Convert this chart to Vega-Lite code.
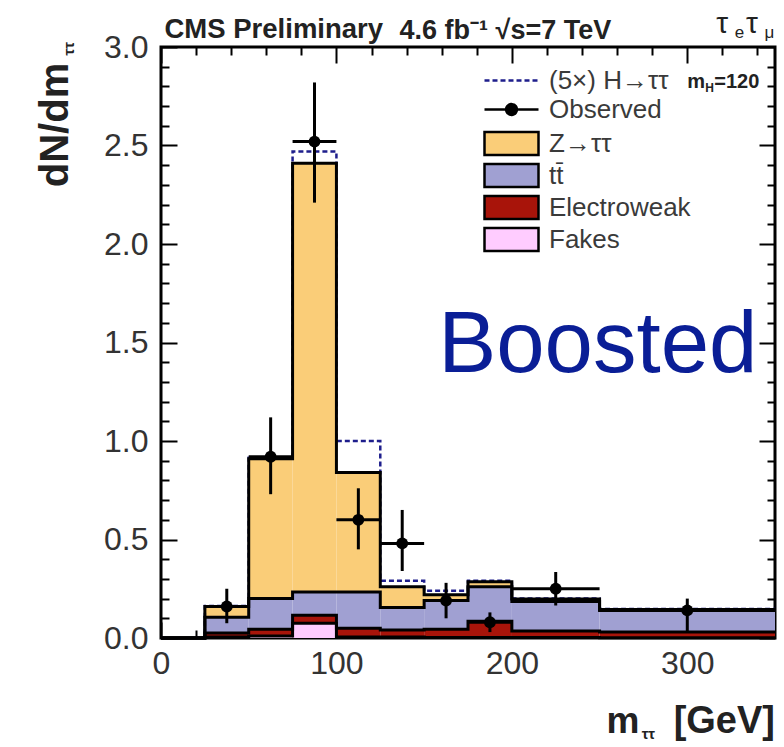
{
  "$schema": "https://vega.github.io/schema/vega-lite/v6.json",
  "width": 614,
  "height": 591,
  "autosize": {"type": "none"},
  "padding": {"left": 161, "top": 47, "right": 9, "bottom": 109},
  "background": "white",
  "config": {"view": {"stroke": "black", "strokeWidth": 3}, "font": "Liberation Sans"},
  "datasets": {
    "stack": [
      {"lo": 0, "hi": 25, "proc": "Fakes", "ord": 1, "val": 0},
      {"lo": 0, "hi": 25, "proc": "Electroweak", "ord": 2, "val": 0},
      {"lo": 0, "hi": 25, "proc": "tt\u0304", "ord": 3, "val": 0},
      {"lo": 0, "hi": 25, "proc": "Z→ττ", "ord": 4, "val": 0},
      {"lo": 25, "hi": 50, "proc": "Fakes", "ord": 1, "val": 0.005},
      {"lo": 25, "hi": 50, "proc": "Electroweak", "ord": 2, "val": 0.02},
      {"lo": 25, "hi": 50, "proc": "tt\u0304", "ord": 3, "val": 0.08},
      {"lo": 25, "hi": 50, "proc": "Z→ττ", "ord": 4, "val": 0.055},
      {"lo": 50, "hi": 75, "proc": "Fakes", "ord": 1, "val": 0.01},
      {"lo": 50, "hi": 75, "proc": "Electroweak", "ord": 2, "val": 0.035},
      {"lo": 50, "hi": 75, "proc": "tt\u0304", "ord": 3, "val": 0.155},
      {"lo": 50, "hi": 75, "proc": "Z→ττ", "ord": 4, "val": 0.71},
      {"lo": 75, "hi": 100, "proc": "Fakes", "ord": 1, "val": 0.075},
      {"lo": 75, "hi": 100, "proc": "Electroweak", "ord": 2, "val": 0.04},
      {"lo": 75, "hi": 100, "proc": "tt\u0304", "ord": 3, "val": 0.119},
      {"lo": 75, "hi": 100, "proc": "Z→ττ", "ord": 4, "val": 2.176},
      {"lo": 100, "hi": 125, "proc": "Fakes", "ord": 1, "val": 0.005},
      {"lo": 100, "hi": 125, "proc": "Electroweak", "ord": 2, "val": 0.045},
      {"lo": 100, "hi": 125, "proc": "tt\u0304", "ord": 3, "val": 0.184},
      {"lo": 100, "hi": 125, "proc": "Z→ττ", "ord": 4, "val": 0.606},
      {"lo": 125, "hi": 150, "proc": "Fakes", "ord": 1, "val": 0.005},
      {"lo": 125, "hi": 150, "proc": "Electroweak", "ord": 2, "val": 0.035},
      {"lo": 125, "hi": 150, "proc": "tt\u0304", "ord": 3, "val": 0.115},
      {"lo": 125, "hi": 150, "proc": "Z→ττ", "ord": 4, "val": 0.105},
      {"lo": 150, "hi": 175, "proc": "Fakes", "ord": 1, "val": 0.003},
      {"lo": 150, "hi": 175, "proc": "Electroweak", "ord": 2, "val": 0.042},
      {"lo": 150, "hi": 175, "proc": "tt\u0304", "ord": 3, "val": 0.145},
      {"lo": 150, "hi": 175, "proc": "Z→ττ", "ord": 4, "val": 0.03},
      {"lo": 175, "hi": 200, "proc": "Fakes", "ord": 1, "val": 0.002},
      {"lo": 175, "hi": 200, "proc": "Electroweak", "ord": 2, "val": 0.083},
      {"lo": 175, "hi": 200, "proc": "tt\u0304", "ord": 3, "val": 0.175},
      {"lo": 175, "hi": 200, "proc": "Z→ττ", "ord": 4, "val": 0.025},
      {"lo": 200, "hi": 250, "proc": "Fakes", "ord": 1, "val": 0.002},
      {"lo": 200, "hi": 250, "proc": "Electroweak", "ord": 2, "val": 0.033},
      {"lo": 200, "hi": 250, "proc": "tt\u0304", "ord": 3, "val": 0.15},
      {"lo": 200, "hi": 250, "proc": "Z→ττ", "ord": 4, "val": 0.013},
      {"lo": 250, "hi": 350, "proc": "Fakes", "ord": 1, "val": 0.001},
      {"lo": 250, "hi": 350, "proc": "Electroweak", "ord": 2, "val": 0.029},
      {"lo": 250, "hi": 350, "proc": "tt\u0304", "ord": 3, "val": 0.11},
      {"lo": 250, "hi": 350, "proc": "Z→ττ", "ord": 4, "val": 0.005}
    ],
    "higgs": [
      {"lo": 0, "hi": 25, "h": 0},
      {"lo": 25, "hi": 50, "h": 0.162},
      {"lo": 50, "hi": 75, "h": 0.915},
      {"lo": 75, "hi": 100, "h": 2.47},
      {"lo": 100, "hi": 125, "h": 1.0},
      {"lo": 125, "hi": 150, "h": 0.29},
      {"lo": 150, "hi": 175, "h": 0.24},
      {"lo": 175, "hi": 200, "h": 0.29},
      {"lo": 200, "hi": 250, "h": 0.2},
      {"lo": 250, "hi": 350, "h": 0.147}
    ],
    "obs": [
      {"xc": 37.5, "xlo": 25, "xhi": 50, "n": 0.16, "lo": 0.075, "hi": 0.25},
      {"xc": 62.5, "xlo": 50, "xhi": 75, "n": 0.92, "lo": 0.73, "hi": 1.12},
      {"xc": 87.5, "xlo": 75, "xhi": 100, "n": 2.52, "lo": 2.21, "hi": 2.82},
      {"xc": 112.5, "xlo": 100, "xhi": 125, "n": 0.6, "lo": 0.45, "hi": 0.76},
      {"xc": 137.5, "xlo": 125, "xhi": 150, "n": 0.48, "lo": 0.34, "hi": 0.65},
      {"xc": 162.5, "xlo": 150, "xhi": 175, "n": 0.19, "lo": 0.1, "hi": 0.28},
      {"xc": 187.5, "xlo": 175, "xhi": 200, "n": 0.08, "lo": 0.03, "hi": 0.13},
      {"xc": 225, "xlo": 200, "xhi": 250, "n": 0.25, "lo": 0.165, "hi": 0.335},
      {"xc": 300, "xlo": 250, "xhi": 350, "n": 0.14, "lo": 0.03, "hi": 0.2}
    ]
  },
  "resolve": {"axis": {"x": "independent", "y": "independent"}},
  "layer": [
    {
      "data": {"name": "stack"},
      "transform": [{"stack": "val", "groupby": ["lo"], "sort": [{"field": "ord", "order": "ascending"}], "as": ["y0", "y1"]}],
      "mark": {"type": "rect", "strokeWidth": 0},
      "encoding": {
        "x": {"field": "lo", "type": "quantitative", "scale": {"domain": [0, 350], "nice": false},
          "axis": {"orient": "bottom", "values": [0,20,40,60,80,100,120,140,160,180,200,220,240,260,280,300,320,340],
            "tickSize": {"condition": {"test": "datum.value % 100 === 0", "value": -16}, "value": -8},
            "labelExpr": "datum.value % 100 === 0 ? datum.label : ''",
            "tickColor": "black", "tickWidth": 2, "domain": false, "grid": false, "title": null,
            "labelFontSize": 32, "labelColor": "#333", "labelPadding": 26, "labelFlush": false, "labelOverlap": false, "labelBound": false}},
        "x2": {"field": "hi"},
        "y": {"field": "y0", "type": "quantitative", "scale": {"domain": [0, 3], "nice": false},
          "axis": {"orient": "left", "values": [0,0.1,0.2,0.3,0.4,0.5,0.6,0.7,0.8,0.9,1,1.1,1.2,1.3,1.4,1.5,1.6,1.7,1.8,1.9,2,2.1,2.2,2.3,2.4,2.5,2.6,2.7,2.8,2.9,3],
            "tickSize": {"condition": {"test": "abs(datum.value*2-round(datum.value*2))<0.001", "value": -16}, "value": -8},
            "labelExpr": "abs(datum.value*2-round(datum.value*2))<0.001 ? format(datum.value,'.1f') : ''",
            "tickColor": "black", "tickWidth": 2, "domain": false, "grid": false, "title": null,
            "labelFontSize": 32, "labelColor": "#333", "labelPadding": 29, "labelFlush": false, "labelOverlap": false, "labelBound": false}},
        "y2": {"field": "y1"},
        "color": {"field": "proc", "type": "nominal",
          "scale": {"domain": ["Z→ττ", "tt\u0304", "Electroweak", "Fakes"], "range": ["#FACD78", "#A0A0D2", "#A8140A", "#FFCCFF"]},
          "legend": {"orient": "none", "legendX": 337, "legendY": 83, "title": null, "padding": 0,
            "symbolType": "M-2.25,-0.96L2.25,-0.96L2.25,0.96L-2.25,0.96Z", "symbolSize": 576,
            "symbolStrokeColor": "black", "symbolStrokeWidth": 2.5, "symbolOpacity": 1,
            "labelFontSize": 26, "labelColor": "#3a3a3a", "labelOffset": 24, "rowPadding": -3,
            "encode": {"symbols": {"update": {"stroke": {"value": "black"}, "strokeWidth": {"value": 2.5}}}}}}
      }
    },
    {
      "data": {"name": "higgs"},
      "transform": [{"fold": ["lo", "hi"], "as": ["edge", "ex"]}],
      "mark": {"type": "line", "color": "#1E1E8C", "strokeWidth": 2.5},
      "encoding": {
        "x": {"field": "ex", "type": "quantitative", "axis": null},
        "y": {"field": "h", "type": "quantitative", "axis": null},
        "order": [{"field": "ex", "type": "quantitative"}, {"field": "edge", "type": "nominal"}],
        "strokeDash": {"datum": "(5×) H→ττ", "type": "nominal",
          "scale": {"domain": ["(5×) H→ττ", "Observed"], "range": [[5, 3], [1, 0]]},
          "legend": {"orient": "none", "legendX": 337, "legendY": 20, "title": null, "padding": 0,
            "symbolType": "M-2.25,0L2.25,0", "symbolSize": 576, "symbolStrokeColor": "#1E1E8C", "symbolStrokeWidth": 2.5,
            "labelFontSize": 26, "labelColor": "#3a3a3a", "labelOffset": 24, "rowPadding": 2,
            "encode": {"symbols": {"update": {
              "shape": {"signal": "datum.value === 'Observed' ? 'M-2.25,0L2.25,0M-0.45,0A0.45,0.45 0 1,1 0.45,0A0.45,0.45 0 1,1 -0.45,0Z' : 'M-2.25,0L2.25,0'"},
              "stroke": {"signal": "datum.value === 'Observed' ? 'black' : '#1E1E8C'"},
              "fill": {"signal": "datum.value === 'Observed' ? 'black' : 'transparent'"},
              "strokeWidth": {"value": 2.5},
              "opacity": {"value": 1}}}}}}
      }
    },
    {
      "data": {"name": "stack"},
      "transform": [
        {"stack": "val", "groupby": ["lo"], "sort": [{"field": "ord", "order": "ascending"}], "as": ["y0", "y1"]},
        {"fold": ["lo", "hi"], "as": ["edge", "ex"]}
      ],
      "mark": {"type": "line", "color": "black", "strokeWidth": 3},
      "encoding": {
        "x": {"field": "ex", "type": "quantitative",
          "axis": {"orient": "top", "values": [0,20,40,60,80,100,120,140,160,180,200,220,240,260,280,300,320,340],
            "tickSize": {"condition": {"test": "datum.value % 100 === 0", "value": -16}, "value": -8},
            "labels": false, "tickColor": "black", "tickWidth": 2, "domain": false, "grid": false, "title": null}},
        "y": {"field": "y1", "type": "quantitative",
          "axis": {"orient": "right", "values": [0,0.1,0.2,0.3,0.4,0.5,0.6,0.7,0.8,0.9,1,1.1,1.2,1.3,1.4,1.5,1.6,1.7,1.8,1.9,2,2.1,2.2,2.3,2.4,2.5,2.6,2.7,2.8,2.9,3],
            "tickSize": {"condition": {"test": "abs(datum.value*2-round(datum.value*2))<0.001", "value": -16}, "value": -8},
            "labels": false, "tickColor": "black", "tickWidth": 2, "domain": false, "grid": false, "title": null}},
        "detail": {"field": "proc"},
        "order": [{"field": "ex", "type": "quantitative"}, {"field": "edge", "type": "nominal"}]
      }
    },
    {
      "data": {"name": "obs"},
      "mark": {"type": "rule", "color": "black", "strokeWidth": 3},
      "encoding": {
        "x": {"field": "xc", "type": "quantitative", "axis": null},
        "y": {"field": "lo", "type": "quantitative", "axis": null},
        "y2": {"field": "hi"}
      }
    },
    {
      "data": {"name": "obs"},
      "mark": {"type": "rule", "color": "black", "strokeWidth": 3},
      "encoding": {
        "x": {"field": "xlo", "type": "quantitative", "axis": null},
        "x2": {"field": "xhi"},
        "y": {"field": "n", "type": "quantitative", "axis": null},
        "strokeDash": {"datum": "Observed", "type": "nominal"}
      }
    },
    {
      "data": {"name": "obs"},
      "mark": {"type": "point", "filled": true, "color": "black", "size": 140, "opacity": 1},
      "encoding": {
        "x": {"field": "xc", "type": "quantitative", "axis": null},
        "y": {"field": "n", "type": "quantitative", "axis": null}
      }
    },
    {
      "data": {"values": [{}]},
      "mark": {"type": "text", "text": "Boosted", "fontSize": 87, "color": "#0A1E96", "align": "left", "baseline": "alphabetic"},
      "encoding": {"x": {"datum": 158, "type": "quantitative", "axis": null}, "y": {"datum": 1.35, "type": "quantitative", "axis": null}}
    },
    {
      "data": {"values": [{}]},
      "mark": {"type": "text", "text": "m", "fontSize": 20, "fontWeight": "bold", "color": "#222", "align": "left", "baseline": "alphabetic"},
      "encoding": {"x": {"datum": 300, "type": "quantitative", "axis": null}, "y": {"datum": 2.79, "type": "quantitative", "axis": null}}
    },
    {
      "data": {"values": [{}]},
      "mark": {"type": "text", "text": "H", "fontSize": 12, "fontWeight": "bold", "color": "#222", "align": "left", "baseline": "alphabetic", "dx": 18, "dy": 4},
      "encoding": {"x": {"datum": 300, "type": "quantitative", "axis": null}, "y": {"datum": 2.79, "type": "quantitative", "axis": null}}
    },
    {
      "data": {"values": [{}]},
      "mark": {"type": "text", "text": "=120", "fontSize": 20, "fontWeight": "bold", "color": "#222", "align": "left", "baseline": "alphabetic", "dx": 27},
      "encoding": {"x": {"datum": 300, "type": "quantitative", "axis": null}, "y": {"datum": 2.79, "type": "quantitative", "axis": null}}
    },
    {
      "data": {"values": [{}]},
      "mark": {"type": "text", "text": "CMS Preliminary", "fontSize": 27.5, "fontWeight": "bold", "color": "#222", "align": "left", "baseline": "alphabetic", "dy": -9},
      "encoding": {"x": {"datum": 2, "type": "quantitative", "axis": null}, "y": {"datum": 3, "type": "quantitative", "axis": null}}
    },
    {
      "data": {"values": [{}]},
      "mark": {"type": "text", "text": "4.6 fb⁻¹ √s=7 TeV", "fontSize": 27, "fontWeight": "bold", "color": "#222", "align": "left", "baseline": "alphabetic", "dy": -8},
      "encoding": {"x": {"datum": 136, "type": "quantitative", "axis": null}, "y": {"datum": 3, "type": "quantitative", "axis": null}}
    },
    {
      "data": {"values": [{}]},
      "mark": {"type": "text", "text": "τ", "fontSize": 30, "color": "#222", "align": "left", "baseline": "alphabetic", "dy": -14},
      "encoding": {"x": {"datum": 316.5, "type": "quantitative", "axis": null}, "y": {"datum": 3, "type": "quantitative", "axis": null}}
    },
    {
      "data": {"values": [{}]},
      "mark": {"type": "text", "text": "e", "fontSize": 17, "color": "#222", "align": "left", "baseline": "alphabetic", "dy": -9},
      "encoding": {"x": {"datum": 327, "type": "quantitative", "axis": null}, "y": {"datum": 3, "type": "quantitative", "axis": null}}
    },
    {
      "data": {"values": [{}]},
      "mark": {"type": "text", "text": "τ", "fontSize": 30, "color": "#222", "align": "left", "baseline": "alphabetic", "dy": -14},
      "encoding": {"x": {"datum": 333.5, "type": "quantitative", "axis": null}, "y": {"datum": 3, "type": "quantitative", "axis": null}}
    },
    {
      "data": {"values": [{}]},
      "mark": {"type": "text", "text": "μ", "fontSize": 17, "color": "#222", "align": "left", "baseline": "alphabetic", "dy": -9},
      "encoding": {"x": {"datum": 344, "type": "quantitative", "axis": null}, "y": {"datum": 3, "type": "quantitative", "axis": null}}
    },
    {
      "data": {"values": [{}]},
      "mark": {"type": "text", "text": "m", "fontSize": 37, "fontWeight": "bold", "color": "#222", "align": "left", "baseline": "alphabetic", "dy": 95},
      "encoding": {"x": {"datum": 254, "type": "quantitative", "axis": null}, "y": {"datum": 0, "type": "quantitative", "axis": null}}
    },
    {
      "data": {"values": [{}]},
      "mark": {"type": "text", "text": "ττ", "fontSize": 15, "fontWeight": "bold", "color": "#222", "align": "left", "baseline": "alphabetic", "dy": 101},
      "encoding": {"x": {"datum": 274, "type": "quantitative", "axis": null}, "y": {"datum": 0, "type": "quantitative", "axis": null}}
    },
    {
      "data": {"values": [{}]},
      "mark": {"type": "text", "text": "[GeV]", "fontSize": 38, "fontWeight": "bold", "color": "#222", "align": "right", "baseline": "alphabetic", "dy": 95},
      "encoding": {"x": {"datum": 350, "type": "quantitative", "axis": null}, "y": {"datum": 0, "type": "quantitative", "axis": null}}
    },
    {
      "data": {"values": [{}]},
      "mark": {"type": "text", "text": "dN/dm", "fontSize": 40, "fontWeight": "bold", "color": "#222", "align": "right", "baseline": "alphabetic", "angle": 270},
      "encoding": {"x": {"datum": -53, "type": "quantitative", "axis": null}, "y": {"datum": 2.92, "type": "quantitative", "axis": null}}
    },
    {
      "data": {"values": [{}]},
      "mark": {"type": "text", "text": "ττ", "fontSize": 15, "fontWeight": "bold", "color": "#222", "align": "right", "baseline": "alphabetic", "angle": 270},
      "encoding": {"x": {"datum": -49.5, "type": "quantitative", "axis": null}, "y": {"datum": 3.025, "type": "quantitative", "axis": null}}
    }
  ]
}
